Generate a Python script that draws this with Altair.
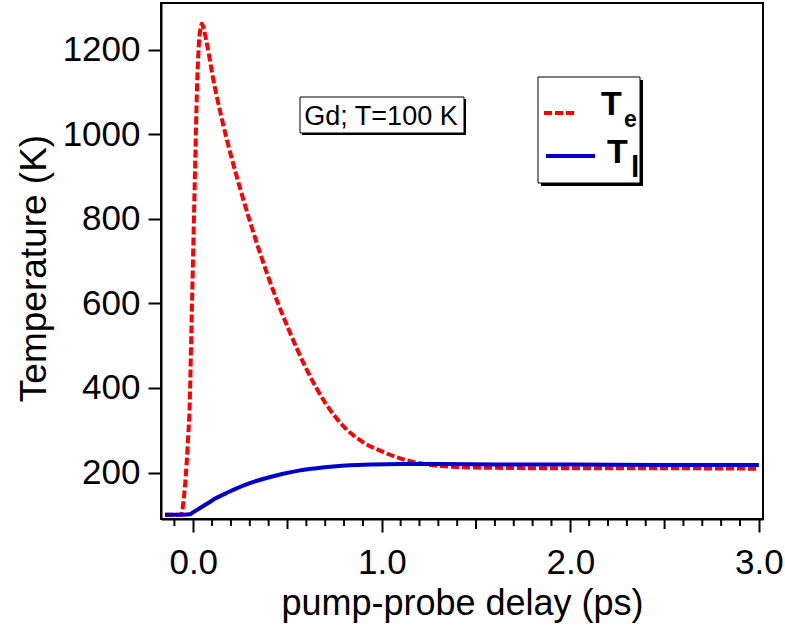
import altair as alt
import pandas as pd

# ---- data ----
te_delay = [-0.15, -0.10, -0.065, -0.06, -0.053, -0.044, -0.035, -0.027, -0.02, -0.01,
            0.0, 0.01, 0.02, 0.03, 0.04, 0.046, 0.055, 0.07, 0.085, 0.10,
            0.15, 0.20, 0.25, 0.30, 0.35, 0.40, 0.45, 0.50, 0.60, 0.70,
            0.80, 0.90, 1.00, 1.10, 1.20, 1.30, 1.40, 1.60, 2.00, 2.50, 3.00]
te_temp = [100, 100, 100, 104, 127, 167, 222, 285, 345, 535,
           730, 925, 1110, 1215, 1255, 1262, 1250, 1220, 1184, 1145,
           1040, 950, 870, 795, 725, 660, 600, 545, 445, 365,
           308, 272, 250, 233, 222, 216, 213, 211, 210, 210, 209]

tl_delay = [-0.15, -0.05, -0.02, 0.0, 0.036, 0.08, 0.124, 0.17, 0.212, 0.30,
            0.389, 0.477, 0.566, 0.654, 0.742, 0.83, 0.95, 1.10, 1.30, 1.60,
            2.00, 2.50, 3.00]
tl_temp = [100, 100, 101, 106, 116, 128, 140, 150, 159, 175,
           187, 197, 205, 210, 214, 217, 219, 220, 220, 219,
           219, 218, 218]

x_major = [0.0, 1.0, 2.0, 3.0]
x_half = [0.5, 1.5, 2.5]
x_minor = [-0.1, 0.1, 0.2, 0.3, 0.4, 0.6, 0.7, 0.8, 0.9,
           1.1, 1.2, 1.3, 1.4, 1.6, 1.7, 1.8, 1.9,
           2.1, 2.2, 2.3, 2.4, 2.6, 2.7, 2.8, 2.9]
y_ticks = [200, 400, 600, 800, 1000, 1200]

x_title = "pump-probe delay (ps)"
y_title = "Temperature (K)"
note_text = "Gd; T=100 K"

df_te = pd.DataFrame({"delay": te_delay, "temp": te_temp})
df_tl = pd.DataFrame({"delay": tl_delay, "temp": tl_temp})
df_half = pd.DataFrame({"delay": x_half})
df_minor = pd.DataFrame({"delay": x_minor})
one = pd.DataFrame({"k": [0]})

FONT = "Liberation Sans"
H = 516
xs = alt.Scale(domain=[-0.171, 3.022], nice=False, zero=False)
ys = alt.Scale(domain=[90, 1311], nice=False, zero=False)

x_axis = alt.Axis(values=x_major, format=".1f", tickSize=13,
                  labelPadding=13, titlePadding=6, grid=False)
y_axis = alt.Axis(values=y_ticks, format="d", tickSize=13, labelPadding=8,
                  titlePadding=9, titleY=265, titleFontSize=37, grid=False)

te_line = alt.Chart(df_te).mark_line(
    color="#ff0000", strokeWidth=4, strokeDash=[8, 3], interpolate="monotone"
).encode(
    x=alt.X("delay:Q", scale=xs, axis=x_axis, title=x_title),
    y=alt.Y("temp:Q", scale=ys, axis=y_axis, title=y_title),
)
tl_line = alt.Chart(df_tl).mark_line(
    color="#0000cc", strokeWidth=4, interpolate="monotone"
).encode(x="delay:Q", y="temp:Q")

# minor / half ticks on the x axis (positioned by the x scale)
half_ticks = alt.Chart(df_half).mark_rule(color="black", strokeWidth=2).encode(
    x="delay:Q", y=alt.value(H), y2=alt.value(H + 10))
minor_ticks = alt.Chart(df_minor).mark_rule(color="black", strokeWidth=2).encode(
    x="delay:Q", y=alt.value(H), y2=alt.value(H + 7))

# annotation box "Gd; T=100 K"
note_shadow = alt.Chart(one).mark_rect(color="black").encode(
    x=alt.value(141), x2=alt.value(305), y=alt.value(96), y2=alt.value(132))
note_box = alt.Chart(one).mark_rect(fill="white", stroke="black", strokeWidth=1).encode(
    x=alt.value(139), x2=alt.value(303), y=alt.value(94), y2=alt.value(130))
note = alt.Chart(one).mark_text(text=note_text, font=FONT, fontSize=27,
                                align="center", baseline="alphabetic", color="black").encode(
    x=alt.value(220), y=alt.value(122))

# custom legend
leg_shadow = alt.Chart(one).mark_rect(color="black").encode(
    x=alt.value(380), x2=alt.value(482), y=alt.value(77), y2=alt.value(183))
leg_box = alt.Chart(one).mark_rect(fill="white", stroke="black", strokeWidth=1).encode(
    x=alt.value(377), x2=alt.value(479), y=alt.value(74), y2=alt.value(180))
leg_te = alt.Chart(one).mark_rule(color="#ff0000", strokeWidth=4, strokeDash=[8, 3]).encode(
    x=alt.value(383), x2=alt.value(413), y=alt.value(110))
leg_tl = alt.Chart(one).mark_rule(color="#0000cc", strokeWidth=4).encode(
    x=alt.value(385), x2=alt.value(434), y=alt.value(153))
t1 = alt.Chart(one).mark_text(text="T", font=FONT, fontSize=34, fontWeight="bold",
                              align="left", baseline="alphabetic", color="black").encode(
    x=alt.value(440), y=alt.value(112))
s1 = alt.Chart(one).mark_text(text="e", font=FONT, fontSize=23, fontWeight="bold",
                              align="left", baseline="alphabetic", color="black").encode(
    x=alt.value(463), y=alt.value(124))
t2 = alt.Chart(one).mark_text(text="T", font=FONT, fontSize=34, fontWeight="bold",
                              align="left", baseline="alphabetic", color="black").encode(
    x=alt.value(446), y=alt.value(160))
s2 = alt.Chart(one).mark_text(text="l", font=FONT, fontSize=30, fontWeight="bold",
                              align="left", baseline="alphabetic", color="black").encode(
    x=alt.value(470), y=alt.value(174))

chart = alt.layer(
    te_line, tl_line, half_ticks, minor_ticks, note_shadow, note_box, note,
    leg_shadow, leg_box, leg_te, leg_tl, t1, s1, t2, s2
).properties(
    width=602, height=H,
    background="white",
    autosize=alt.AutoSizeParams(type="none"),
    padding={"left": 161, "top": 3, "right": 22, "bottom": 107},
).configure_view(
    stroke="black", strokeWidth=2
).configure_axis(
    domainColor="black", domainWidth=2, tickColor="black", tickWidth=2,
    labelColor="black", labelFont=FONT, labelFontSize=35,
    titleColor="black", titleFont=FONT, titleFontSize=36, titleFontWeight="normal",
)

chart.save("out.html", embed_options={"renderer": "svg", "actions": False})
